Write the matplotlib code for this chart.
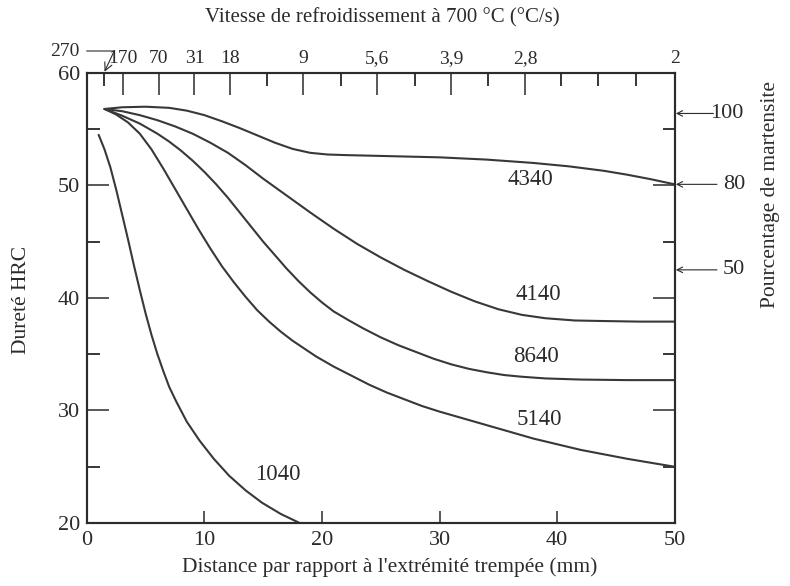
import matplotlib
matplotlib.use("Agg")
import matplotlib.pyplot as plt

plt.rcParams['font.family'] = ['Liberation Serif', 'DejaVu Serif']

# Jominy curves: distance (mm) vs hardness (HRC)
x_4340 = [1.5, 3, 5, 7, 8.5, 10, 11.5, 13, 14.5, 16, 17.5, 19, 20.5, 22, 26, 30, 34, 38, 41, 44, 46, 48, 50]
y_4340 = [56.8, 56.95, 57.0, 56.9, 56.65, 56.25, 55.7, 55.1, 54.45, 53.8, 53.25, 52.9, 52.75, 52.7,
          52.6, 52.5, 52.3, 52.0, 51.7, 51.3, 50.95, 50.55, 50.1]

x_4140 = [1.5, 3, 4.5, 6, 7.5, 9, 10.5, 12, 13.5, 15, 17, 19, 21, 23, 25, 27, 29, 31, 33, 35, 37, 39,
          41.5, 44, 47, 50]
y_4140 = [56.8, 56.6, 56.25, 55.8, 55.25, 54.6, 53.8, 52.9, 51.8, 50.6, 49.1, 47.6, 46.15, 44.8, 43.6,
          42.5, 41.5, 40.55, 39.7, 39.0, 38.5, 38.2, 38.0, 37.95, 37.9, 37.9]

x_8640 = [1.5, 3, 4.5, 6, 7, 8, 9, 10, 11, 12, 13, 14, 15, 16, 17, 18, 19, 20, 21, 22.3, 23.5, 25,
          26.5, 28, 29.5, 31, 32.5, 34, 35.5, 37, 39, 42, 46, 50]
y_8640 = [56.8, 56.2, 55.5, 54.6, 53.9, 53.1, 52.2, 51.2, 50.1, 48.9, 47.6, 46.3, 45.0, 43.8, 42.6,
          41.5, 40.5, 39.6, 38.8, 38.0, 37.3, 36.5, 35.8, 35.2, 34.6, 34.1, 33.7, 33.4, 33.15, 33.0,
          32.85, 32.75, 32.7, 32.7]

x_5140 = [1.5, 2.5, 3.5, 4.5, 5.5, 6.5, 7.5, 8.5, 9.5, 10.5, 11.5, 12.5, 13.5, 14.5, 15.5, 16.5, 17.5,
          18.5, 19.5, 21, 22.5, 24, 25.5, 27, 28.5, 30, 32, 34, 36, 38, 40, 42, 44, 46, 48, 50]
y_5140 = [56.8, 56.3, 55.6, 54.6, 53.2, 51.5, 49.7, 47.9, 46.1, 44.4, 42.8, 41.4, 40.1, 38.9, 37.9,
          37.0, 36.2, 35.5, 34.8, 33.9, 33.1, 32.3, 31.6, 31.0, 30.4, 29.9, 29.3, 28.7, 28.1, 27.5,
          27.0, 26.5, 26.1, 25.7, 25.35, 25.0]

x_1040 = [1.0, 1.5, 2.0, 2.5, 3.0, 3.5, 4.0, 4.5, 5.0, 5.5, 6.0, 6.5, 7.0, 7.6, 8.5, 9.6, 10.8, 12.1,
          13.5, 14.9, 16.5, 18.1]
y_1040 = [54.5, 53.2, 51.6, 49.6, 47.4, 45.2, 42.9, 40.7, 38.6, 36.7, 35.0, 33.5, 32.1, 30.8, 29.0,
          27.3, 25.7, 24.2, 22.9, 21.8, 20.8, 20.0]

curves = [("4340", x_4340, y_4340, 37.7, 50.5),
          ("4140", x_4140, y_4140, 38.4, 40.3),
          ("8640", x_8640, y_8640, 38.2, 34.8),
          ("5140", x_5140, y_5140, 38.5, 29.2),
          ("1040", x_1040, y_1040, 16.2, 24.3)]

# top axis: cooling rate at 700 C
rate_pos = [3.05, 6.1, 9.15, 12.2, 18.4, 24.7, 31.0, 37.3, 50.0]
rate_labels = ["170", "70", "31", "18", "9", "5,6", "3,9", "2,8", "2"]
rate_minor = [1.45, 15.3, 21.6, 27.9, 34.1, 40.3, 43.5, 46.7]

# right side: percentage of martensite
mart_hrc = [56.4, 50.1, 42.5]
mart_labels = ["100", "80", "50"]

ink = '#2b2b2b'
fig = plt.figure(figsize=(7.9, 5.86), dpi=100)
ax = fig.add_axes([0.110, 0.1075, 0.744, 0.768])

for name, xs, ys, lx, ly in curves:
    ax.plot(xs, ys, color='#383838', lw=1.5, solid_joinstyle='round', solid_capstyle='round')
    ax.text(lx, ly, name, ha='center', va='center', fontsize=16.5, color=ink)

ax.set_xlim(0, 50)
ax.set_ylim(20, 60)
ax.set_xticks([0, 10, 20, 30, 40, 50])
ax.set_yticks([20, 30, 40, 50, 60])
ax.set_yticks([25, 35, 45, 55], minor=True)
for s in ax.spines.values():
    s.set_linewidth(1.5)
    s.set_color(ink)
ax.tick_params(axis='y', which='major', direction='in', length=16, width=1.1,
               left=True, right=True, labelsize=16, pad=5, colors=ink)
ax.tick_params(axis='y', which='minor', direction='in', length=9, width=1.1,
               left=True, right=True)
ax.tick_params(axis='x', which='major', direction='in', length=9, width=1.1,
               labelsize=16, pad=6, colors=ink)

ax2 = ax.twiny()
ax2.set_xlim(0, 50)
ax2.set_xticks(rate_pos)
ax2.set_xticklabels(rate_labels)
ax2.set_xticks(rate_minor, minor=True)
ax2.tick_params(axis='x', which='major', direction='in', length=16, width=1.1,
                labelsize=14, pad=4, colors=ink)
ax2.tick_params(axis='x', which='minor', direction='in', length=9, width=1.1)
for s in ax2.spines.values():
    s.set_linewidth(1.5)
    s.set_color(ink)

ax.annotate("270", xy=(1.45, 60), xycoords='data',
            xytext=(65 / 790, 1 - 51 / 586), textcoords='figure fraction',
            ha='center', va='center', fontsize=14, color=ink,
            arrowprops=dict(arrowstyle='->', lw=0.8, color=ink, shrinkA=3, shrinkB=1,
                            connectionstyle='angle,angleA=0,angleB=65,rad=0'),
            annotation_clip=False)

for h, lab in zip(mart_hrc, mart_labels):
    x_txt = 53.05 if lab == "100" else 54.1
    ax.annotate("", xy=(50.1, h), xytext=(53.3 if lab == "100" else 53.6, h),
                arrowprops=dict(arrowstyle='->', lw=0.8, color=ink, shrinkA=0, shrinkB=0),
                annotation_clip=False)
    ax.text(x_txt, h, lab, ha='left', va='center', fontsize=16, color=ink, clip_on=False)

fig.text(382 / 790, 1 - 18 / 586, "Vitesse de refroidissement à 700 °C (°C/s)",
         ha='center', va='center', fontsize=15, color=ink)
fig.text(390 / 790, 1 - 567 / 586, "Distance par rapport à l'extrémité trempée (mm)",
         ha='center', va='center', fontsize=15.5, color=ink)
fig.text(22 / 790, 1 - 300 / 586, "Dureté HRC", rotation=90,
         ha='center', va='center', fontsize=15.5, color=ink)
fig.text(770 / 790, 1 - 195 / 586, "Pourcentage de martensite", rotation=90,
         ha='center', va='center', fontsize=15.5, color=ink)

fig.savefig("out.png", dpi=100)
